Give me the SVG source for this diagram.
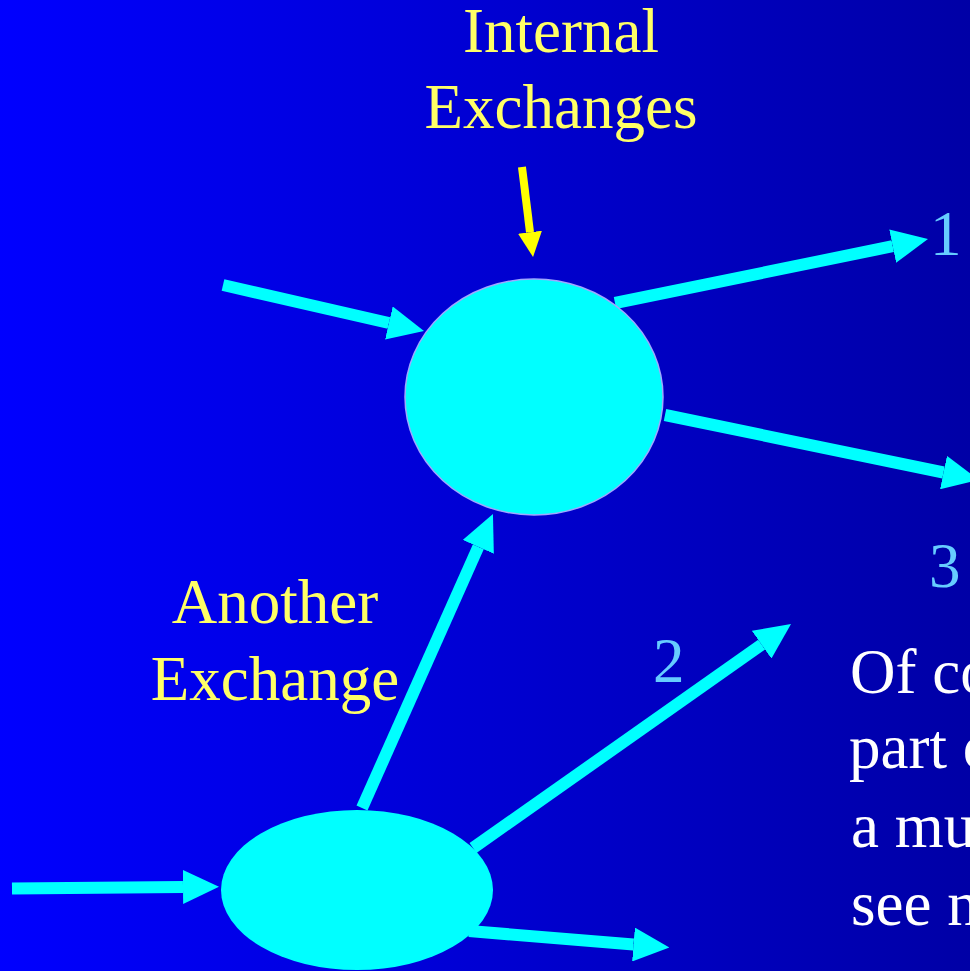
<svg xmlns="http://www.w3.org/2000/svg" width="970" height="971" viewBox="0 0 970 971">
  <defs>
    <linearGradient id="bg" x1="0" y1="0" x2="1" y2="0">
      <stop offset="0" stop-color="#0000ff"/>
      <stop offset="1" stop-color="#0000a6"/>
    </linearGradient>
    <marker id="head" viewBox="0 -17 36 34" refX="0" refY="0" markerWidth="36" markerHeight="34" markerUnits="userSpaceOnUse" orient="auto">
      <path d="M0,-17 L36,0 L0,17 z" fill="#00ffff"/>
    </marker>
    <marker id="yhead" viewBox="0 -12 25 24" refX="0" refY="0" markerWidth="25" markerHeight="24" markerUnits="userSpaceOnUse" orient="auto">
      <path d="M0,-12 L25,0 L0,12 z" fill="#ffff00"/>
    </marker>
  </defs>
  <style>
    .t { font-family: "Liberation Serif", "Times New Roman", serif; font-size: 63px; }
    .y { fill: #ffff66; }
    .n { fill: #66ccff; }
    .w { fill: #ffffff; }
    .c { stroke: #00ffff; stroke-width: 12; fill: none; marker-end: url(#head); }
    .yc { stroke: #ffff00; stroke-width: 8; fill: none; marker-end: url(#yhead); }
  </style>
  <rect x="0" y="0" width="970" height="971" fill="url(#bg)"/>

  <g id="connectors">
    <line class="yc" x1="522" y1="167" x2="530" y2="232.2"/>
    <line class="c" x1="223" y1="285" x2="388.9" y2="323"/>
    <line class="c" x1="615" y1="303" x2="892.7" y2="246.2"/>
    <line class="c" x1="665" y1="415" x2="943.5" y2="472.5"/>
    <line class="c" x1="362" y1="808" x2="478.3" y2="546.9"/>
    <line class="c" x1="473" y1="848" x2="761.6" y2="644.7"/>
    <line class="c" x1="12" y1="888.5" x2="183" y2="887"/>
    <line class="c" x1="469" y1="931" x2="633.5" y2="944.5"/>
  </g>

  <g id="internal-node">
    <ellipse cx="534" cy="397" rx="129" ry="118" fill="#00ffff" stroke="#9fa8ff" stroke-width="1.5"/>
  </g>
  <g id="another-node">
    <ellipse cx="357" cy="890" rx="136" ry="80" fill="#00ffff"/>
  </g>

  <g id="labels">
    <text class="t y" x="561" y="52" text-anchor="middle">Internal</text>
    <text class="t y" x="561" y="128" text-anchor="middle">Exchanges</text>
    <text class="t y" x="275" y="623" text-anchor="middle">Another</text>
    <text class="t y" x="275" y="700" text-anchor="middle">Exchange</text>
    <text class="t n" x="930" y="255">1</text>
    <text class="t n" x="929" y="587">3</text>
    <text class="t n" x="653" y="682">2</text>
    <text class="t w" x="850" y="693">Of co</text>
    <text class="t w" x="849" y="768">part o</text>
    <text class="t w" x="851" y="847">a mu</text>
    <text class="t w" x="851" y="925">see n</text>
  </g>
</svg>
